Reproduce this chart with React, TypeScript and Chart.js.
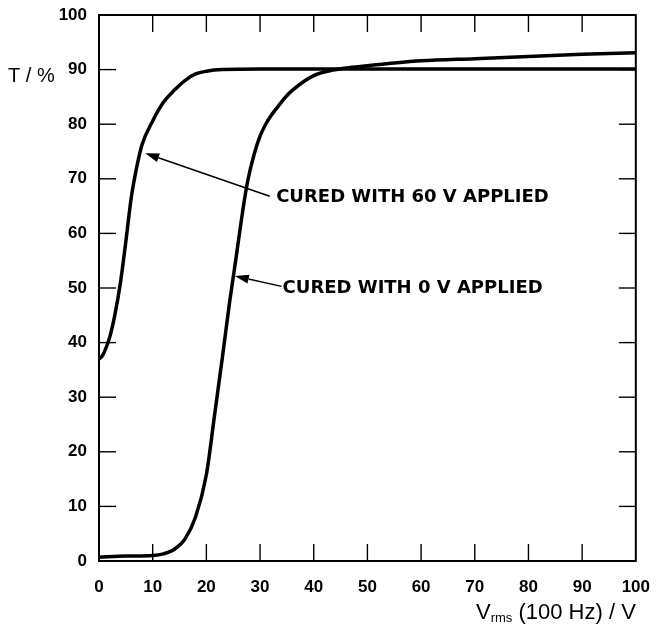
import React, { useEffect, useRef } from "react";
import { Chart, registerables } from "chart.js";

Chart.register(...registerables);

// Curve "cured with 60 V applied": Vrms (V) vs transmission T (%)
const cured60_V = [0, 0.5, 1, 2, 3, 4, 5, 6, 7, 8, 10, 12, 14, 16, 18, 20, 23, 30, 50, 100];
const cured60_T = [37.0, 37.4, 38.3, 41.0, 45.3, 51.0, 58.5, 66.5, 72.0, 76.2, 80.6, 84.0, 86.2, 88.0, 89.2, 89.7, 90.0, 90.1, 90.1, 90.1];

// Curve "cured with 0 V applied"
const cured0_V = [0, 5, 10, 12, 14, 16, 18, 20, 21.5, 23, 24.3, 25.5, 26.8, 27.7, 28.9, 30, 31, 32, 33, 34.5, 36, 40, 43, 46, 50, 55, 60, 70, 80, 90, 100];
const cured0_T = [0.7, 0.9, 1.0, 1.3, 2.1, 4.0, 8.1, 15.8, 26.5, 37.4, 47.2, 55.3, 64.3, 69.6, 74.5, 77.8, 79.9, 81.5, 82.8, 84.7, 86.2, 88.9, 89.8, 90.3, 90.7, 91.2, 91.6, 92.0, 92.4, 92.8, 93.1];

const xTickValues = [0, 10, 20, 30, 40, 50, 60, 70, 80, 90, 100];
const yTickValues = [0, 10, 20, 30, 40, 50, 60, 70, 80, 90, 100];

const label60 = "CURED WITH 60 V APPLIED";
const label0 = "CURED WITH 0 V APPLIED";
// annotation anchors in data units: [textX, textY, arrowTailX, arrowTailY, arrowTipX, arrowTipY]
const anno60 = [33.0, 66.6, 31.8, 66.8, 8.6, 74.7];
const anno0 = [34.2, 50.0, 34.0, 50.3, 25.3, 52.2];

const yTitle = "T / %";
const xTitleMain = "V";
const xTitleSub = "rms";
const xTitleRest = " (100 Hz) / V";

const FONT = '"Liberation Sans", Arial, sans-serif';
const ANNO_FONT = '"DejaVu Sans", "Liberation Sans", sans-serif';

const decorPlugin = {
  id: "decor",
  afterDatasetsDraw(chart: any) {
    const { ctx, chartArea: a } = chart;
    const xs = chart.scales.x;
    const ys = chart.scales.y;
    ctx.save();
    ctx.strokeStyle = "#000";
    ctx.fillStyle = "#000";
    // frame
    ctx.lineWidth = 2;
    ctx.strokeRect(a.left, a.top, a.right - a.left, a.bottom - a.top);
    // inward ticks on all four sides
    const L = 17;
    ctx.lineWidth = 1.4;
    const seg = (x1: number, y1: number, x2: number, y2: number) => {
      ctx.beginPath();
      ctx.moveTo(x1, y1);
      ctx.lineTo(x2, y2);
      ctx.stroke();
    };
    xTickValues.forEach((v) => {
      if (v === xs.min || v === xs.max) return;
      const px = xs.getPixelForValue(v);
      seg(px, a.bottom, px, a.bottom - L);
      seg(px, a.top, px, a.top + L);
    });
    yTickValues.forEach((v) => {
      if (v === ys.min || v === ys.max) return;
      const py = ys.getPixelForValue(v);
      seg(a.left, py, a.left + L, py);
      seg(a.right, py, a.right - L, py);
    });

    // annotations
    const drawAnno = (text: string, p: number[]) => {
      const tx = xs.getPixelForValue(p[0]);
      const ty = ys.getPixelForValue(p[1]);
      const x1 = xs.getPixelForValue(p[2]);
      const y1 = ys.getPixelForValue(p[3]);
      const x2 = xs.getPixelForValue(p[4]);
      const y2 = ys.getPixelForValue(p[5]);
      ctx.lineWidth = 1.5;
      const ang = Math.atan2(y2 - y1, x2 - x1);
      const hl = 14;
      const hw = 4.5;
      const bx = x2 - hl * Math.cos(ang);
      const by = y2 - hl * Math.sin(ang);
      seg(x1, y1, bx, by);
      ctx.beginPath();
      ctx.moveTo(x2, y2);
      ctx.lineTo(bx + hw * Math.sin(ang), by - hw * Math.cos(ang));
      ctx.lineTo(bx - hw * Math.sin(ang), by + hw * Math.cos(ang));
      ctx.closePath();
      ctx.fill();
      ctx.font = "bold 18px " + ANNO_FONT;
      ctx.textAlign = "left";
      ctx.textBaseline = "middle";
      ctx.fillText(text, tx, ty);
    };
    drawAnno(label60, anno60);
    drawAnno(label0, anno0);

    // axis titles
    ctx.textBaseline = "alphabetic";
    ctx.textAlign = "left";
    ctx.font = "20px " + FONT;
    ctx.fillText(yTitle, 8, 82);

    const mainFont = "22px " + FONT;
    const subFont = "13px " + FONT;
    ctx.font = mainFont;
    const w1 = ctx.measureText(xTitleMain).width;
    const w3 = ctx.measureText(xTitleRest).width;
    ctx.font = subFont;
    const w2 = ctx.measureText(xTitleSub).width;
    let sx = a.right - (w1 + w2 + w3);
    const base = 619;
    ctx.font = mainFont;
    ctx.fillText(xTitleMain, sx, base);
    sx += w1;
    ctx.font = subFont;
    ctx.fillText(xTitleSub, sx, base + 3);
    sx += w2;
    ctx.font = mainFont;
    ctx.fillText(xTitleRest, sx, base);
    ctx.restore();
  },
};

export default function App() {
  const ref = useRef<HTMLCanvasElement | null>(null);
  useEffect(() => {
    document.body.style.margin = "0";
    const canvas = ref.current;
    if (!canvas) return;
    const toPts = (xs: number[], ys: number[]) => xs.map((v, i) => ({ x: v, y: ys[i] }));
    const chart = new Chart(canvas, {
      type: "line",
      data: {
        datasets: [
          {
            label: label60,
            data: toPts(cured60_V, cured60_T),
            borderColor: "#000",
            borderWidth: 3.5,
            pointRadius: 0,
            cubicInterpolationMode: "monotone",
            fill: false,
          },
          {
            label: label0,
            data: toPts(cured0_V, cured0_T),
            borderColor: "#000",
            borderWidth: 3.5,
            pointRadius: 0,
            cubicInterpolationMode: "monotone",
            fill: false,
          },
        ],
      },
      options: {
        animation: false,
        responsive: true,
        maintainAspectRatio: false,
        layout: { padding: { top: 15, right: 20, left: 0, bottom: 0 } },
        plugins: {
          legend: { display: false },
          tooltip: { enabled: false },
        },
        scales: {
          x: {
            type: "linear",
            min: 0,
            max: 100,
            afterFit: (s: any) => {
              s.height = 66;
            },
            afterBuildTicks: (s: any) => {
              s.ticks = xTickValues.map((v) => ({ value: v }));
            },
            grid: { display: false },
            border: { display: false },
            ticks: {
              color: "#000",
              padding: 8,
              maxRotation: 0,
              font: { family: FONT, size: 17, weight: "bold" },
            },
          },
          y: {
            type: "linear",
            min: 0,
            max: 100,
            afterFit: (s: any) => {
              s.width = 99;
            },
            afterBuildTicks: (s: any) => {
              s.ticks = yTickValues.map((v) => ({ value: v }));
            },
            grid: { display: false },
            border: { display: false },
            ticks: {
              color: "#000",
              padding: 4,
              font: { family: FONT, size: 17, weight: "bold" },
            },
          },
        },
      } as any,
      plugins: [decorPlugin],
    });
    return () => chart.destroy();
  }, []);
  return (
    <div style={{ position: "relative", width: 658, height: 627 }}>
      <canvas ref={ref} />
    </div>
  );
}
